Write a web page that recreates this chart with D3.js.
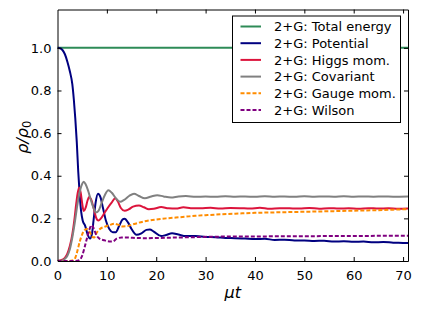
<!DOCTYPE html>
<html lang="en">
<head>
<meta charset="UTF-8">
<title>rho / rho0</title>
<script src="https://cdn.jsdelivr.net/npm/d3@7"></script>
<style>
  body { margin: 0; background: #fff; }
  text { font-family: "DejaVu Sans", sans-serif; }
</style>
</head>
<body>
<div id="box"></div>
<script>
// data: [mu t, rho/rho0]
const totalEnergy = [[0,1.0],[10,1.0],[20,1.0],[30,1.0],[40,1.0],[50,1.0],[60,1.0],[71,1.0]];
const potential = [[0,1.0],[0.5,0.998],[1,0.99],[1.5,0.97],[2,0.935],[2.5,0.89],[3,0.83],[3.3,0.76],[3.6,0.67],
  [3.9,0.56],[4.2,0.42],[4.5,0.31],[4.8,0.23],[5.1,0.19],[5.6,0.165],[6.1,0.125],[6.6,0.105],[7.0,0.13],[7.3,0.19],
  [7.7,0.27],[8.2,0.315],[8.7,0.3],[9.2,0.25],[9.8,0.19],[10.5,0.15],[11.2,0.135],[11.8,0.135],[12.5,0.165],
  [13.2,0.195],[13.6,0.198],[14.3,0.18],[15,0.15],[16,0.123],[17,0.13],[18,0.146],[18.7,0.148],[19.5,0.138],
  [21,0.117],[22,0.122],[23.2,0.13],[24.5,0.124],[26,0.117],[28,0.117],[30,0.113],[32,0.112],[34,0.108],
  [36,0.107],[38,0.105],[40,0.103],[42,0.104],[44,0.099],[46,0.1],[48,0.096],[50,0.096],[52,0.094],[54,0.095],
  [56,0.091],[58,0.093],[60,0.09],[62,0.091],[64,0.088],[66,0.089],[68,0.086],[70,0.085],[71,0.084]];
const higgsMom = [[0,0],[0.5,0.002],[1,0.006],[1.5,0.015],[2,0.035],[2.5,0.07],[3,0.125],[3.4,0.19],[3.8,0.27],
  [4.1,0.32],[4.4,0.345],[4.7,0.32],[5.0,0.27],[5.3,0.235],[5.7,0.25],[6.1,0.285],[6.4,0.3],[6.8,0.29],[7.3,0.25],
  [7.8,0.205],[8.3,0.19],[8.8,0.2],[9.5,0.225],[10.2,0.25],[11,0.275],[11.7,0.294],[12.2,0.28],[12.8,0.25],
  [13.6,0.236],[14.4,0.242],[15.3,0.255],[16.5,0.26],[17.5,0.252],[18.5,0.243],[19.5,0.245],[21,0.253],
  [22.5,0.247],[24,0.246],[25.5,0.252],[27,0.248],[29,0.247],[31,0.25],[33,0.246],[35,0.249],[37,0.248],
  [39,0.246],[41,0.25],[43,0.245],[45,0.248],[47,0.247],[49,0.246],[51,0.249],[53,0.245],[55,0.248],[57,0.246],
  [59,0.247],[61,0.245],[63,0.248],[65,0.246],[67,0.247],[69,0.245],[71,0.246]];
const covariant = [[0,0],[0.5,0.001],[1,0.003],[1.5,0.01],[2,0.025],[2.5,0.055],[3,0.11],[3.5,0.18],[4,0.26],
  [4.5,0.325],[5,0.362],[5.3,0.372],[5.7,0.36],[6.2,0.33],[6.7,0.29],[7.2,0.255],[7.8,0.228],[8.3,0.235],
  [8.9,0.27],[9.6,0.31],[10.3,0.332],[11,0.32],[11.8,0.295],[12.7,0.278],[13.5,0.287],[14.5,0.305],[15.5,0.316],
  [16.5,0.305],[17.7,0.294],[19,0.303],[20.2,0.309],[21.5,0.303],[23,0.298],[24.5,0.303],[26,0.305],[28,0.301],
  [30,0.303],[32,0.301],[34,0.304],[36,0.302],[38,0.303],[40,0.301],[42,0.304],[44,0.302],[46,0.303],[48,0.301],
  [50,0.304],[52,0.302],[54,0.303],[56,0.302],[58,0.304],[60,0.302],[62,0.303],[64,0.302],[66,0.303],[68,0.302],
  [71,0.303]];
const gaugeMom = [[0,0],[2,0],[3,0.002],[3.5,0.01],[4,0.045],[4.5,0.09],[5,0.125],[5.5,0.145],[6,0.15],[6.5,0.138],
  [7,0.115],[7.4,0.11],[8,0.135],[8.7,0.152],[9.5,0.16],[10.5,0.168],[11.5,0.175],[12.3,0.17],[13.2,0.162],
  [14,0.163],[15,0.17],[16.5,0.18],[18,0.188],[20,0.195],[22,0.2],[24,0.204],[26,0.208],[28,0.212],[30,0.215],
  [33,0.219],[36,0.222],[40,0.226],[44,0.228],[48,0.23],[52,0.232],[56,0.234],[60,0.236],[64,0.238],[68,0.241],
  [71,0.243]];
const wilson = [[0,0],[3,0],[4,0.001],[4.5,0.005],[5,0.025],[5.5,0.065],[6,0.11],[6.5,0.15],[6.9,0.168],[7.3,0.155],
  [7.8,0.125],[8.5,0.105],[9.5,0.097],[10.5,0.092],[11.2,0.092],[12,0.105],[13,0.11],[14,0.11],[16,0.108],
  [18,0.107],[20,0.108],[24,0.11],[28,0.112],[32,0.114],[36,0.115],[40,0.115],[45,0.116],[50,0.116],[55,0.117],
  [60,0.117],[65,0.118],[71,0.118]];

const seriesNames = ["2+G: Total energy","2+G: Potential","2+G: Higgs mom.","2+G: Covariant","2+G: Gauge mom.","2+G: Wilson"];
const xTicks = [0,10,20,30,40,50,60,70];
const yTicks = [0.0,0.2,0.4,0.6,0.8,1.0];

const series = [
  {name: seriesNames[0], data: totalEnergy, color: "#2e8b57", dash: null},
  {name: seriesNames[1], data: potential, color: "#000080", dash: null},
  {name: seriesNames[2], data: higgsMom, color: "#dc143c", dash: null},
  {name: seriesNames[3], data: covariant, color: "#808080", dash: null},
  {name: seriesNames[4], data: gaugeMom, color: "#ff8c00", dash: "4,2"},
  {name: seriesNames[5], data: wilson, color: "#800080", dash: "4,2"}
];

const svg = d3.select("#box").append("svg").attr("width", 421).attr("height", 316);

const m = {left: 57.5, right: 408, top: 9.5, bottom: 261};
const x = d3.scaleLinear().domain([0, 71]).range([m.left, m.right]);
const y = d3.scaleLinear().domain([0, 1.18]).range([m.bottom, m.top]);

svg.append("clipPath").attr("id", "clip")
  .append("rect").attr("x", m.left).attr("y", m.top).attr("width", m.right - m.left).attr("height", m.bottom - m.top);

const line = d3.line().x(d => x(d[0])).y(d => y(d[1])).curve(d3.curveMonotoneX);

const plot = svg.append("g").attr("clip-path", "url(#clip)");
series.forEach(s => {
  plot.append("path")
    .attr("d", line(s.data))
    .attr("fill", "none")
    .attr("stroke", s.color)
    .attr("stroke-width", 2)
    .attr("stroke-dasharray", s.dash);
});

// axes, ticks pointing inwards on all four sides
const fontSize = 13;
const bottomAxis = svg.append("g").attr("transform", `translate(0,${m.bottom})`)
  .call(d3.axisBottom(x).tickValues(xTicks).tickSizeInner(-4).tickSizeOuter(0).tickPadding(10).tickFormat(d3.format("d")));
const topAxis = svg.append("g").attr("transform", `translate(0,${m.top})`)
  .call(d3.axisTop(x).tickValues(xTicks).tickSizeInner(-4).tickSizeOuter(0).tickFormat(""));
const leftAxis = svg.append("g").attr("transform", `translate(${m.left},0)`)
  .call(d3.axisLeft(y).tickValues(yTicks).tickSizeInner(-4).tickSizeOuter(0).tickPadding(6).tickFormat(d3.format(".1f")));
const rightAxis = svg.append("g").attr("transform", `translate(${m.right},0)`)
  .call(d3.axisRight(y).tickValues(yTicks).tickSizeInner(-4).tickSizeOuter(0).tickFormat(""));

[bottomAxis, topAxis, leftAxis, rightAxis].forEach(a => {
  a.select(".domain").attr("stroke", "#000");
  a.selectAll(".tick line").attr("stroke", "#000");
  a.selectAll(".tick text").attr("font-size", fontSize).attr("fill", "#000")
    .attr("font-family", "DejaVu Sans");
});
// hide edge ticks which sit on the spines
topAxis.selectAll(".tick").filter(d => d === 0).remove();
bottomAxis.selectAll(".tick line").filter(d => d === 0).remove();
leftAxis.selectAll(".tick line").filter(d => d === 0).remove();
rightAxis.selectAll(".tick").filter(d => d === 0).remove();

// axis labels
svg.append("text")
  .attr("x", (m.left + m.right) / 2).attr("y", 298)
  .attr("text-anchor", "middle").attr("font-size", 16).attr("font-style", "italic")
  .text("μt");

const ylab = svg.append("text")
  .attr("transform", `translate(28,${(m.top + m.bottom) / 2 + 2}) rotate(-90)`)
  .attr("text-anchor", "middle").attr("font-size", 16).attr("font-style", "italic");
ylab.append("tspan").text("ρ/ρ");
ylab.append("tspan").attr("dy", 3).attr("font-size", 11.5).attr("font-style", "normal").text("0");

// legend
const lg = svg.append("g");
lg.append("rect").attr("x", 232.5).attr("y", 16).attr("width", 168).attr("height", 106.5)
  .attr("fill", "#fff").attr("stroke", "#000").attr("stroke-width", 1);
series.forEach((s, i) => {
  const cy = 26.5 + i * 16.7;
  lg.append("line").attr("x1", 240.5).attr("x2", 261).attr("y1", cy).attr("y2", cy)
    .attr("stroke", s.color).attr("stroke-width", 2).attr("stroke-dasharray", s.dash);
  lg.append("text").attr("x", 274).attr("y", cy + 4.6).attr("font-size", fontSize).attr("fill", "#000")
    .text(s.name);
});
</script>
</body>
</html>
